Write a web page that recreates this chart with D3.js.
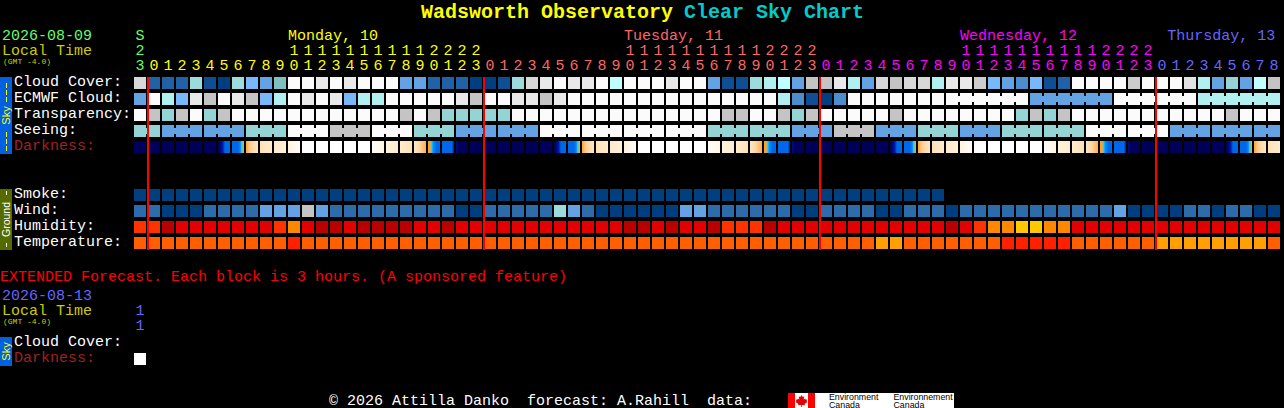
<!DOCTYPE html>
<html><head><meta charset="utf-8">
<style>
html,body{margin:0;padding:0;background:#000;overflow:hidden}
svg{display:block}
text{font-family:"Liberation Mono",monospace;font-size:15px;white-space:pre}
</style>
<script src="https://cdn.jsdelivr.net/npm/d3@7/dist/d3.min.js"></script>
</head><body>
<script>
// ---- data ----
const hours = [23,0,1,2,3,4,5,6,7,8,9,10,11,12,13,14,15,16,17,18,19,20,21,22,23,
  0,1,2,3,4,5,6,7,8,9,10,11,12,13,14,15,16,17,18,19,20,21,22,23,
  0,1,2,3,4,5,6,7,8,9,10,11,12,13,14,15,16,17,18,19,20,21,22,23,
  0,1,2,3,4,5,6,7,8];
const dayOfHour = [0,...Array(24).fill(1),...Array(24).fill(2),...Array(24).fill(3),...Array(9).fill(4)];
const dayLabels = [["Monday, 10",1,11],["Tuesday, 11",2,35],["Wednesday, 12",3,59],["Thursday, 13",4,73.8]];
const skyLevels = [0,1,2,3,4,5,6,7,8,9,10,11,12,13,14,15,16];
const cloudCover = [12,2,2,2,7,1,0,7,5,4,6,15,15,14,15,14,15,15,15,4,4,2,2,2,0,0,1,7,12,14,15,14,14,15,9,15,15,15,14,15,15,4,1,1,7,8,9,4,10,10,14,8,4,12,10,12,12,8,14,14,11,5,4,3,5,1,2,15,15,15,15,11,15,15,15,13,8,4,16,4,9,10];
const ecmwfCloud = [4,15,8,5,14,10,15,14,10,5,8,15,14,15,14,5,8,8,15,15,15,15,15,14,10,15,15,14,14,10,14,15,15,15,15,15,15,15,15,15,15,15,15,15,15,15,8,3,1,0,3,15,15,15,15,15,15,15,15,15,15,15,15,15,4,4,4,4,4,4,15,15,15,15,15,15,8,8,8,8,8,8];
const ecmwfBlocks = [[58,63],[64,69],[70,75],[76,81]];
const transparency = [15,10,16,10,15,16,10,15,15,15,15,15,15,15,15,15,15,15,15,10,15,10,16,16,16,16,16,15,15,15,15,15,15,15,15,15,15,15,15,15,15,15,10,10,15,15,10,16,10,15,15,15,15,15,10,15,15,15,15,15,15,15,15,16,10,16,10,15,15,15,15,15,15,15,15,15,15,15,10,15,15,15];
const seeing = [16,16,4,4,4,4,4,4,16,16,16,15,15,15,10,10,10,15,15,15,16,16,16,4,4,4,4,4,4,15,15,15,15,15,15,15,15,15,15,15,15,16,16,16,16,16,16,4,4,4,10,10,10,4,4,4,16,16,16,4,4,4,16,16,16,16,16,16,15,15,15,15,15,15,4,4,4,4,4,4,4,4];
const seeingBlocks = [[0,1],[2,4],[5,7],[8,10],[11,13],[14,16],[17,19],[20,22],[23,25],[26,28],[29,31],[32,34],[35,37],[38,40],[41,43],[44,46],[47,49],[50,52],[53,55],[56,58],[59,61],[62,64],[65,67],[68,70],[71,73],[74,76],[77,79],[80,81]];
const darkShapes = {
  n:[0,0], a:[0,0.6,1.2,2,2,2], b:[2,2,2,2,2.6,4,5], c:[5.2,5.8,6.2,6.5,6.7], d:[6.6,7], e:[6.9,7.3], f:[7.4,7.8],
  w:[8,8], g:[7.8,7.5], h:[7.3,7], i:[7,6.6], j:[6.8,6.4,5.8,5.4], k:[5,5,4,3,2.6,2,2,2], l:[2,2,2,2,2,2,2,1.3], m:[0.5,0,0,0,0,0]
};
const darkness = ["n","n","n","n","n","n","a","b","c","d","e","f","w","w","w","w","w","g","h","i","j","k","l","m",
  "n","n","n","n","n","n","a","b","c","d","e","f","w","w","w","w","w","g","h","i","j","k","l","m",
  "n","n","n","n","n","n","a","b","c","d","e","f","w","w","w","w","w","g","h","i","j","k","l","m",
  "n","n","n","n","n","n","a","b","c","d"];
const smoke = [0,0,0,0,0,0,0,0,0,0,0,0,0,0,0,0,0,0,0,0,0,0,0,0,0,0,0,0,0,0,0,0,0,0,0,0,0,0,0,0,0,0,0,0,0,0,0,0,0,0,0,0,0,0,0,0,0,0];
const wind = [2,2,0,0,0,2,2,2,2,4,4,4,10,4,2,2,2,2,2,2,2,2,2,0,0,2,2,2,2,2,7,4,2,0,0,0,0,0,0,4,4,2,2,2,2,2,2,0,0,2,2,2,2,0,0,2,2,2,0,2,2,2,2,2,2,2,2,2,2,2,4,0,0,0,0,2,2,0,2,2,0,0];
const humidity = [2,2,0,1,1,1,1,1,1,1,2,3,1,0,0,1,0,0,0,0,1,1,0,1,1,1,1,1,1,1,1,1,1,1,1,0,0,1,0,1,1,0,2,2,2,0,1,1,1,1,1,1,1,1,1,1,1,1,0,1,2,3,3,4,4,3,3,1,1,1,1,1,1,1,1,1,1,1,1,1,1,1];
const temperature = [1,1,1,1,1,1,1,1,1,1,1,0,1,1,1,1,1,1,1,1,1,1,1,1,1,1,1,1,1,1,1,1,1,1,1,1,1,1,1,1,1,1,1,1,1,1,1,1,1,1,1,1,1,2,2,1,1,1,1,1,1,1,0,0,0,0,0,1,1,1,1,1,1,2,2,2,2,2,2,2,2,1];
const midnightCols = [1,25,49,73];
const skyLabels = ["Cloud Cover:","ECMWF Cloud:","Transparency:","Seeing:","Darkness:"];
const groundLabels = ["Smoke:","Wind:","Humidity:","Temperature:"];

// ---- scales ----
const W = 1284, H = 408;
const x = d3.scaleLinear().domain([0,1]).range([134,148]);
const cell = 12;
const skyY = d3.scaleLinear().domain([0,1]).range([77,93]);
const groundY = d3.scaleLinear().domain([0,1]).range([189,205]);
const skyColor = d3.scaleOrdinal(skyLevels,["#003f7f","#0f4e92","#2162a6","#4d8dcb","#63a3e3","#78b8f8","#7fbfbf","#9cdcdc","#b0f0f0","#c0ffff","#c4c4c4","#cccccc","#d8d8d8","#e2e2e2","#e9e9e9","#fbfbfb","#94d4d4"]);
const windColor = d3.scaleOrdinal(skyLevels,["#003f7f","#0f4e92","#2c6cab","#4d8dcb","#63a3e3","#78b8f8","#7fbfbf","#9cdcdc","#b0f0f0","#c0ffff","#c4c4c4"]);
const humColor = d3.scaleOrdinal([0,1,2,3,4],["#b80000","#e20000","#ff3300","#ff8800","#ffc800"]);
const tempColor = d3.scaleOrdinal([0,1,2],["#ff2000","#ff5f00","#ffa000"]);
const darkColor = d3.scaleLinear().domain([0,1,2,3,4,5,6,7,8])
  .range(["#00005a","#0010a0","#0068e8","#0090ff","#20d0ff","#ffa028","#ffd098","#ffeccc","#ffffff"]);
const dayColor = d3.scaleOrdinal([0,1,2,3,4],["#66ff66","#ffff00","#ff6666","#ff00ff","#6666ff"]);

const svg = d3.select("body").append("svg").attr("width",W).attr("height",H);
svg.append("rect").attr("width",W).attr("height",H).attr("fill","#000");
function txt(s,px,py,fill,opts={}){
  const t = svg.append("text").attr("x",px).attr("y",py).attr("fill",fill).text(s);
  if(opts.size) t.style("font-size",opts.size+"px");
  if(opts.weight) t.style("font-weight",opts.weight);
  if(opts.anchor) t.attr("text-anchor",opts.anchor);
  if(opts.family) t.style("font-family",opts.family);
  return t;
}
// title
txt("Wadsworth Observatory",421,18,"#ffff00",{size:20,weight:"bold"});
txt("Clear Sky Chart",684,18,"#00cccc",{size:20,weight:"bold"});
// header
txt("2026-08-09",2,40,"#66ff66");
txt("Local Time",2,55,"#cccc00");
txt("(GMT -4.0)",3,64,"#cccc00",{size:8});
txt("S",x(0)+6,40,"#66ff66",{anchor:"middle"});
dayLabels.forEach(d=>txt(d[0],x(d[2]),40,dayColor(d[1])));
svg.append("g").selectAll("text").data(hours.map((h,i)=>({h,i}))).join("text")
  .attr("x",d=>x(d.i)+6).attr("y",70).attr("text-anchor","middle")
  .attr("fill",d=>dayColor(dayOfHour[d.i])).text(d=>d.h%10);
svg.append("g").selectAll("text").data(hours.map((h,i)=>({h,i})).filter(d=>d.h>=10)).join("text")
  .attr("x",d=>x(d.i)+6).attr("y",55).attr("text-anchor","middle")
  .attr("fill",d=>dayColor(dayOfHour[d.i])).text(d=>Math.floor(d.h/10));
// labels
skyLabels.forEach((s,i)=>txt(s,14,skyY(i)+9,i==4?"#a02020":"#ffffff"));
groundLabels.forEach((s,i)=>txt(s,14,groundY(i)+9,"#ffffff"));
// side bars
function side(y0,y1,fill,col,label,size,dashes,dashPat){
  svg.append("rect").attr("x",0).attr("y",y0).attr("width",12).attr("height",y1-y0).attr("fill",fill);
  svg.append("text").attr("transform",`translate(9.5,${(y0+y1)/2}) rotate(-90)`)
    .attr("text-anchor","middle").attr("fill",col).style("font-family","Liberation Sans").style("font-size",size+"px").text(label);
  svg.append("g").attr("shape-rendering","crispEdges").selectAll("line").data(dashes).join("line")
    .attr("x1",6).attr("x2",6).attr("y1",d=>d[0]).attr("y2",d=>d[1])
    .attr("stroke",col).attr("stroke-width",1).attr("stroke-dasharray",dashPat);
}
side(77,154,"#0060e0","#ffff00","Sky",11,[[83,102],[132,151]],"5,2");
side(189,250,"#556b00","#ffffff","Ground",10.5,[[191,195],[243,247]],"none");
side(337,366,"#0060e0","#ffff00","Sky",11,[],"none");

// rows
function row(vals,yPos,col){
  svg.append("g").attr("shape-rendering","crispEdges").selectAll("rect").data(vals).join("rect")
    .attr("x",(d,i)=>x(i)).attr("y",yPos).attr("width",cell).attr("height",cell).attr("fill",d=>col(d));
}
function bridges(vals,blocks,yPos,col){
  const pairs=[];
  blocks.forEach(([a,b])=>{for(let i=a;i<b;i++)pairs.push(i);});
  svg.append("g").attr("shape-rendering","crispEdges").selectAll("rect").data(pairs).join("rect")
    .attr("x",i=>x(i)+cell).attr("y",yPos+3).attr("width",x(1)-x(0)-cell).attr("height",6).attr("fill",i=>col(vals[i]));
}
row(cloudCover,skyY(0),skyColor);
row(ecmwfCloud,skyY(1),skyColor);
bridges(ecmwfCloud,ecmwfBlocks,skyY(1),skyColor);
row(transparency,skyY(2),skyColor);
row(seeing,skyY(3),skyColor);
bridges(seeing,seeingBlocks,skyY(3),skyColor);
// darkness: each cell is drawn pixel column by pixel column along its sampled shape
const darkSlices = darkness.flatMap((k,i)=>{
  const s = darkShapes[k];
  const pos = d3.scaleLinear().domain(d3.range(s.length).map(j=>j*(cell-1)/(s.length-1))).range(s);
  return d3.range(cell).map(p=>({i,p,v:pos(p)}));
});
svg.append("g").attr("shape-rendering","crispEdges").selectAll("rect").data(darkSlices).join("rect")
  .attr("x",d=>x(d.i)+d.p).attr("y",skyY(4)).attr("width",1).attr("height",cell).attr("fill",d=>darkColor(d.v));
row(smoke,groundY(0),()=>"#023f7e");
row(wind,groundY(1),windColor);
row(humidity,groundY(2),humColor);
row(temperature,groundY(3),tempColor);
// midnight lines
svg.append("g").attr("shape-rendering","crispEdges").selectAll("rect").data(midnightCols).join("rect")
  .attr("x",c=>x(c)-1).attr("y",77).attr("width",2).attr("height",173).attr("fill","#ff0000");

// extended
txt("EXTENDED Forecast. Each block is 3 hours. (A sponsored feature)",0,281,"#ff0000");
txt("2026-08-13",2,300,"#6666ff");
txt("Local Time",2,315,"#cccc00");
txt("(GMT -4.0)",3,324,"#cccc00",{size:8});
txt("1",x(0)+6,315,"#6666ff",{anchor:"middle"});
txt("1",x(0)+6,330,"#6666ff",{anchor:"middle"});
txt("Cloud Cover:",14,346,"#ffffff");
txt("Darkness:",14,362,"#a02020");
svg.append("rect").attr("x",134).attr("y",353).attr("width",12).attr("height",12).attr("fill","#fff");

// footer
txt("\u00a9 2026 Attilla Danko  forecast: A.Rahill  data:",329,404.5,"#ffffff");
const logo = svg.append("g").attr("shape-rendering","crispEdges");
logo.append("rect").attr("x",788).attr("y",393).attr("width",166).attr("height",15).attr("fill","#fff");
logo.append("rect").attr("x",788).attr("y",393).attr("width",7).attr("height",15).attr("fill","#ff0000");
logo.append("rect").attr("x",808).attr("y",393).attr("width",7).attr("height",15).attr("fill","#ff0000");
svg.append("path").attr("fill","#e00000").attr("d","M801.5 395l1.2 2 1.6-.6-.6 3 1.6-1 .4 1.3 1.5-.2-.6 1.8.8.6-2.8 2.2.3 1.1-3-.3v2h-.8v-2l-3 .3.3-1.1-2.8-2.2.8-.6-.6-1.8 1.5.2.4-1.3 1.6 1-.6-3 1.6.6z");
[["Environment",829],["Environnement",893.5]].forEach(d=>{
  txt(d[0],d[1],400,"#000",{size:8.8,family:"Liberation Sans"});
  txt("Canada",d[1],407.5,"#000",{size:8.8,family:"Liberation Sans"});
});
</script>
</body></html>
